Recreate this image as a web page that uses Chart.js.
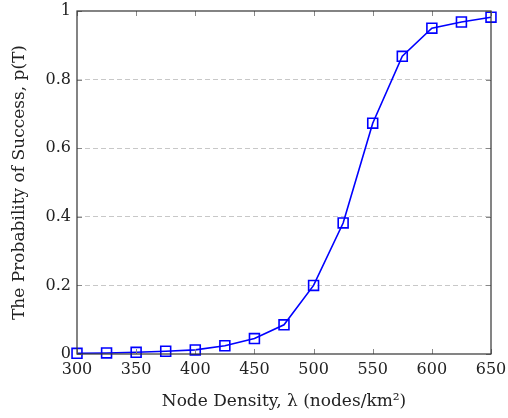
<!DOCTYPE html>
<html>
<head>
<meta charset="utf-8">
<script src="https://cdn.jsdelivr.net/npm/chart.js@4.4.1/dist/chart.umd.min.js"></script>
<style>
  html, body { margin: 0; padding: 0; background: #fff; }
  #wrap { width: 508px; height: 418px; }
</style>
</head>
<body>
<div id="wrap"><canvas id="successChart" width="508" height="418"></canvas></div>
<script>
// node density values (x) and probability of success (y)
const density = [300, 325, 350, 375, 400, 425, 450, 475, 500, 525, 550, 575, 600, 625, 650];
const pSuccess = [0.002, 0.003, 0.005, 0.008, 0.012, 0.024, 0.045, 0.085, 0.2, 0.382, 0.673, 0.868, 0.95, 0.968, 0.982];
const xTicks = [300, 350, 400, 450, 500, 550, 600, 650];
const yTicks = [0, 0.2, 0.4, 0.6, 0.8, 1];

const serif = "'DejaVu Serif', 'Liberation Serif', serif";

// box around the plot plus small inward ticks on all four sides
const frame = {
    id: "frame",
    afterDatasetsDraw(chart) {
        const { ctx, chartArea: a, scales } = chart;
        ctx.save();
        ctx.strokeStyle = "#888";
        ctx.lineWidth = 1;
        ctx.beginPath();
        xTicks.forEach((v) => {
            const x = Math.round(scales.x.getPixelForValue(v)) + 0.5;
            ctx.moveTo(x, a.bottom); ctx.lineTo(x, a.bottom - 5);
            ctx.moveTo(x, a.top); ctx.lineTo(x, a.top + 5);
        });
        yTicks.forEach((v) => {
            const y = Math.round(scales.y.getPixelForValue(v)) + 0.5;
            ctx.moveTo(a.left, y); ctx.lineTo(a.left + 5, y);
            ctx.moveTo(a.right, y); ctx.lineTo(a.right - 5, y);
        });
        ctx.stroke();
        ctx.strokeStyle = "#333";
        ctx.lineWidth = 1.2;
        ctx.strokeRect(a.left, a.top, a.right - a.left, a.bottom - a.top);
        ctx.restore();
    },
};

new Chart(document.getElementById("successChart").getContext("2d"), {
    type: "line",
    data: {
        datasets: [
            {
                data: density.map((d, i) => ({ x: d, y: pSuccess[i] })),
                borderColor: "#0000ff",
                borderWidth: 1.6,
                backgroundColor: "rgba(0,0,0,0)",
                pointStyle: "rect",
                pointRadius: 7,
                pointBorderWidth: 1.6,
                pointBorderColor: "#0000ff",
                pointBackgroundColor: "rgba(0,0,0,0)",
                tension: 0,
                clip: false,
            },
        ],
    },
    plugins: [frame],
    options: {
        responsive: false,
        animation: false,
        layout: { padding: { top: 11, right: 17, left: 0, bottom: 0 } },
        plugins: { legend: { display: false }, tooltip: { enabled: false } },
        scales: {
            x: {
                type: "linear",
                min: 300,
                max: 650,
                afterBuildTicks: (s) => { s.ticks = xTicks.map((v) => ({ value: v })); },
                afterFit: (s) => { s.height = 64; s.paddingLeft = 0; s.paddingRight = 0; },
                grid: { display: false, drawTicks: false },
                border: { display: false },
                ticks: { color: "#222", padding: 6, font: { family: serif, size: 16 } },
                title: {
                    display: true,
                    text: "Node Density, λ (nodes/km²)",
                    color: "#222",
                    font: { family: serif, size: 17 },
                    padding: { top: 0, bottom: 6 },
                },
            },
            y: {
                min: 0,
                max: 1,
                afterBuildTicks: (s) => { s.ticks = yTicks.map((v) => ({ value: v })); },
                afterFit: (s) => { s.width = 77; s.paddingTop = 0; s.paddingBottom = 0; },
                grid: {
                    color: (c) => (c.tick.value > 0 && c.tick.value < 1 ? "#c8c8c8" : "rgba(0,0,0,0)"),
                    lineWidth: 1,
                    drawTicks: false,
                },
                border: { display: false, dash: [5, 3] },
                ticks: {
                    color: "#222",
                    padding: 6,
                    font: { family: serif, size: 16 },
                    callback: (v) => String(v),
                },
                title: {
                    display: true,
                    text: "The Probability of Success, p(T)",
                    color: "#222",
                    font: { family: serif, size: 17 },
                    padding: { top: 9, bottom: 0 },
                },
            },
        },
    },
});
</script>
</body>
</html>
